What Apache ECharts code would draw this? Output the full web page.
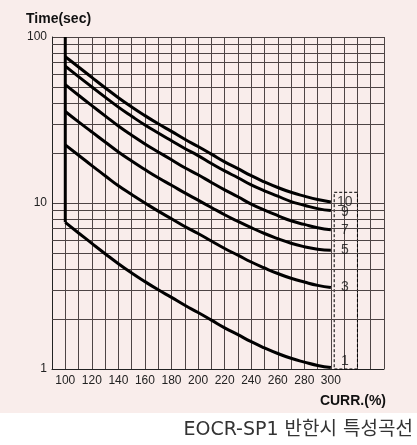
<!DOCTYPE html>
<html>
<head>
<meta charset="utf-8">
<script src="https://cdn.jsdelivr.net/npm/echarts@6/dist/echarts.min.js"></script>
<style>
html,body{margin:0;padding:0;background:#ffffff;}
#chart{width:417px;height:445px;}
</style>
</head>
<body>
<div id="chart"></div>
<script>
// ---- data ----
const xValues = [100,110,120,130,140,150,160,170,180,190,200,210,220,230,240,250,260,270,280,290,300];
const curve10 = [76,66.0,57.1,49.5,43.1,37.9,33.6,30.0,27.0,24.2,21.9,19.7,17.7,16.1,14.6,13.4,12.4,11.6,11.0,10.5,10.15];
const curve9  = [66.8,57.7,50.0,43.4,37.8,33.3,29.5,26.4,23.7,21.3,19.3,17.3,15.6,14.2,12.85,11.85,11.0,10.2,9.7,9.25,9.0];
const curve7  = [51.7,44.6,38.6,33.5,29.1,25.6,22.7,20.3,18.2,16.3,14.8,13.3,12.0,10.9,9.85,9.07,8.4,7.82,7.43,7.09,6.9];
const curve5  = [35.6,30.8,26.8,23.3,20.3,17.9,15.9,14.2,12.8,11.5,10.4,9.4,8.5,7.75,7.1,6.55,6.1,5.72,5.45,5.27,5.2];
const curve3  = [22.4,19.4,16.8,14.6,12.7,11.25,10.0,8.93,8.04,7.22,6.55,5.9,5.32,4.85,4.41,4.06,3.76,3.52,3.34,3.19,3.1];
const curve1  = [7.65,6.6,5.71,4.95,4.31,3.79,3.36,3.0,2.7,2.42,2.19,1.97,1.77,1.61,1.46,1.34,1.24,1.16,1.1,1.05,1.02];
const curves = [curve10, curve9, curve7, curve5, curve3, curve1];
const classLabels = ['10','9','7','5','3','1'];
const xTickLabels = [100,120,140,160,180,200,220,240,260,280,300];
const yMinorValues = [2,3,4,5,6,7,8,9,20,30,40,50,60,70,80,90];
const xMin = 90, xMax = 340, yMin = 1, yMax = 100;
const labelX = 310.5;
const boxX = [302.5, 320];
const boxTop = 11.6;

// ---- chart ----
const gridColor = '#4d4444';
const chart = echarts.init(document.getElementById('chart'), null, {renderer: 'canvas'});

const series = [];
curves.forEach((c, k) => {
  series.push({
    type: 'line',
    data: xValues.map((x, i) => [x, c[i]]),
    smooth: 0.5,
    symbol: 'none',
    lineStyle: {color: '#000', width: 3},
    z: 5,
    silent: true
  });
});
// vertical starting line at 100%
series.push({
  type: 'line',
  data: [[xValues[0], yMax], [xValues[0], curve1[0]]],
  symbol: 'none',
  lineStyle: {color: '#000', width: 3},
  z: 5,
  silent: true,
  markLine: {
    silent: true,
    symbol: 'none',
    label: {show: false},
    lineStyle: {color: gridColor, width: 1, type: 'solid'},
    data: yMinorValues.map(v => ({yAxis: v})),
    z: 1
  },
  markArea: {
    silent: true,
    itemStyle: {color: 'rgba(0,0,0,0)', borderColor: '#000', borderWidth: 1, borderType: [3, 2]},
    data: [[{coord: [boxX[0], boxTop]}, {coord: [boxX[1], yMin]}]]
  }
});
// class labels
series.push({
  type: 'scatter',
  symbolSize: 0,
  silent: true,
  z: 6,
  data: curves.map((c, k) => ({
    value: [labelX, c[c.length - 1]],
    label: {
      show: true,
      formatter: classLabels[k],
      position: 'inside',
      offset: k === 5 ? [0, -6] : (k === 1 ? [0, 2] : [0, 0]),
      fontSize: 14,
      color: '#111',
      fontFamily: 'Liberation Sans Narrow, Liberation Sans, Arial, sans-serif'
    }
  }))
});

const option = {
  backgroundColor: '#ffffff',
  animation: false,
  grid: {left: 52, right: 33, top: 37, bottom: 76, containLabel: false},
  xAxis: {
    type: 'value',
    min: xMin, max: xMax, interval: 10,
    axisLine: {show: true, lineStyle: {color: '#222', width: 1}},
    axisTick: {show: false},
    splitLine: {show: true, lineStyle: {color: gridColor, width: 1}},
    axisLabel: {
      margin: 6,
      fontSize: 12,
      color: '#222',
      fontFamily: 'Liberation Sans, Arial, sans-serif',
      formatter: v => (xTickLabels.indexOf(v) >= 0 ? String(v) : '')
    }
  },
  yAxis: {
    type: 'log', logBase: 10, min: yMin, max: yMax,
    axisLine: {show: true, lineStyle: {color: '#222', width: 1}},
    axisTick: {show: false},
    splitLine: {show: true, lineStyle: {color: gridColor, width: 1}},
    axisLabel: {margin: 5, fontSize: 12, color: '#222', fontFamily: 'Liberation Sans, Arial, sans-serif'}
  },
  graphic: [
    {type: 'rect', z: -10, silent: true, shape: {x: 0, y: 0, width: 417, height: 413}, style: {fill: '#f9edeb'}},
    {type: 'text', left: 26, top: 12, silent: true,
      style: {text: 'Time(sec)', font: 'bold 14px "Liberation Sans", Arial, sans-serif', fill: '#111'}},
    {type: 'text', silent: true, x: 386, y: 401,
      style: {text: 'CURR.(%)', font: 'bold 14px "Liberation Sans", Arial, sans-serif', fill: '#111', textAlign: 'right', textVerticalAlign: 'middle'}},
    {type: 'text', silent: true, x: 413, y: 430,
      style: {text: 'EOCR-SP1 반한시 특성곡선', font: '19px "DejaVu Sans", "Noto Sans CJK KR", sans-serif', fill: '#333', textAlign: 'right', textVerticalAlign: 'middle'}}
  ],
  series: series
};
chart.setOption(option);
</script>
</body>
</html>
